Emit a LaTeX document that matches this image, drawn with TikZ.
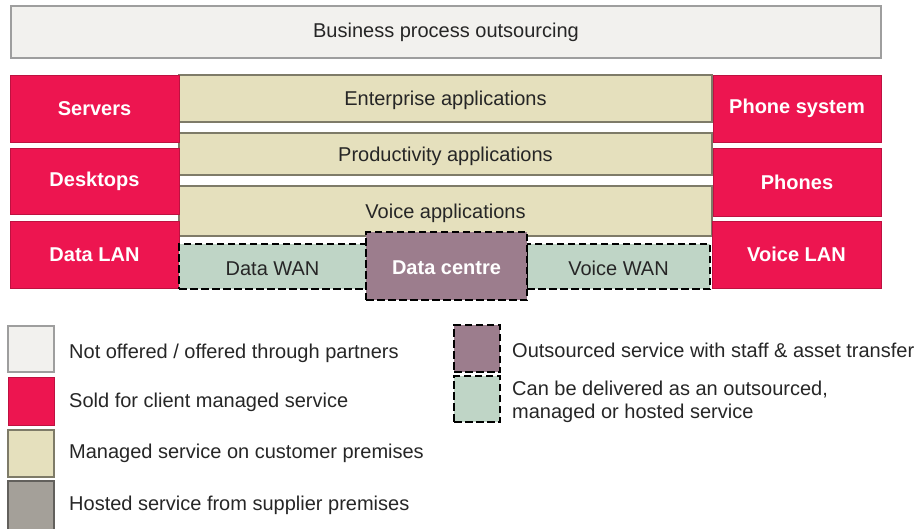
\documentclass[tikz,border=0pt]{standalone}
\usepackage{fontspec}
\setmainfont{Liberation Sans}
\definecolor{offwhite}{HTML}{F2F1EE}
\definecolor{crimsonbox}{HTML}{ED1550}
\definecolor{khaki}{HTML}{E5E0BD}
\definecolor{greengrey}{HTML}{BFD5C6}
\definecolor{mauve}{HTML}{9C7D8D}
\definecolor{hosted}{HTML}{A4A099}
\tikzset{
  base/.style={inner sep=0pt, outer sep=0pt, anchor=north west, font=\fontsize{20}{23}\selectfont},
  notoffered/.style={base, fill=offwhite, draw=black!38, line width=1.2pt},
  sold/.style={base, fill=crimsonbox, draw=crimsonbox!80!black, line width=0.8pt, text=white, font=\fontsize{20}{23}\selectfont\bfseries},
  managed/.style={base, fill=khaki, draw=black!45!khaki, line width=1.2pt, text depth=0pt},
  hostedbox/.style={base, fill=hosted, draw=black!40!hosted, line width=1.2pt},
  outsrc/.style={base, fill=mauve, draw=black, line width=2pt, dash pattern=on 7.5pt off 3.5pt, text=white, font=\fontsize{20}{23}\selectfont\bfseries},
  deliver/.style={base, fill=greengrey, draw=black, line width=2pt, dash pattern=on 7.5pt off 3.5pt, text=black!85},
  legtext/.style={inner sep=0pt, anchor=base west, text=black!85, font=\fontsize{20}{23}\selectfont, align=left},
  lbl/.style={text=black!85},
  lowtext/.style={text height=17pt, text depth=0pt}
}
\begin{document}
\begin{tikzpicture}[x=1pt,y=-1pt]
\useasboundingbox (0,0) rectangle (915,528);
% top
\node[notoffered, minimum width=870pt, minimum height=52pt, lbl] (bpo) at (11,6) {Business process outsourcing};
% middle khaki bars
\node[managed, minimum width=533pt, minimum height=47pt, lbl] (ent) at (179,75) {Enterprise applications};
\node[managed, minimum width=533pt, minimum height=42pt, lbl] (prod) at (179,133) {Productivity applications};
\node[managed, minimum width=533pt, minimum height=50pt, lbl] (voiceapp) at (179,186) {Voice applications};
% left red
\node[sold, minimum width=169pt, minimum height=67pt] (servers) at (10,75) {Servers};
\node[sold, minimum width=169pt, minimum height=66pt] (desktops) at (10,148) {Desktops};
\node[sold, minimum width=169pt, minimum height=67pt] (datalan) at (10,221) {Data LAN};
% right red
\node[sold, minimum width=168pt, minimum height=67pt] (phonesys) at (713,75) {Phone system};
\node[sold, minimum width=168pt, minimum height=68pt] (phones) at (713,148) {Phones};
\node[sold, minimum width=169pt, minimum height=67pt] (voicelan) at (712,221) {Voice LAN};
% WAN and data centre
\node[deliver, minimum width=187pt, minimum height=45pt, lowtext] (datawan) at (179,244) {Data WAN};
\node[deliver, minimum width=183pt, minimum height=45pt, lowtext] (voicewan) at (527,244) {Voice WAN};
\node[outsrc, minimum width=161pt, minimum height=68pt, lowtext] (dc) at (366,232) {Data centre};
% legend left
\node[notoffered, minimum width=46pt, minimum height=46pt] (k1) at (8,326) {};
\node[sold, minimum width=46pt, minimum height=48pt] (k2) at (8,377) {};
\node[managed, minimum width=46pt, minimum height=47pt] (k3) at (8,430) {};
\node[hostedbox, minimum width=46pt, minimum height=50pt] (k4) at (8,481) {};
\node[legtext] (t1) at (69,358) {Not offered / offered through partners};
\node[legtext] (t2) at (69,407) {Sold for client managed service};
\node[legtext] (t3) at (69,458) {Managed service on customer premises};
\node[legtext] (t4) at (69,510) {Hosted service from supplier premises};
% legend right
\node[outsrc, minimum width=46pt, minimum height=47pt] (k5) at (454,325) {};
\node[deliver, minimum width=46pt, minimum height=46pt] (k6) at (454,376) {};
\node[legtext] (t5) at (512,357) {Outsourced service with staff \& asset transfer};
\node[legtext] (t6) at (512,418) {Can be delivered as an outsourced,\\managed or hosted service};
\end{tikzpicture}
\end{document}
